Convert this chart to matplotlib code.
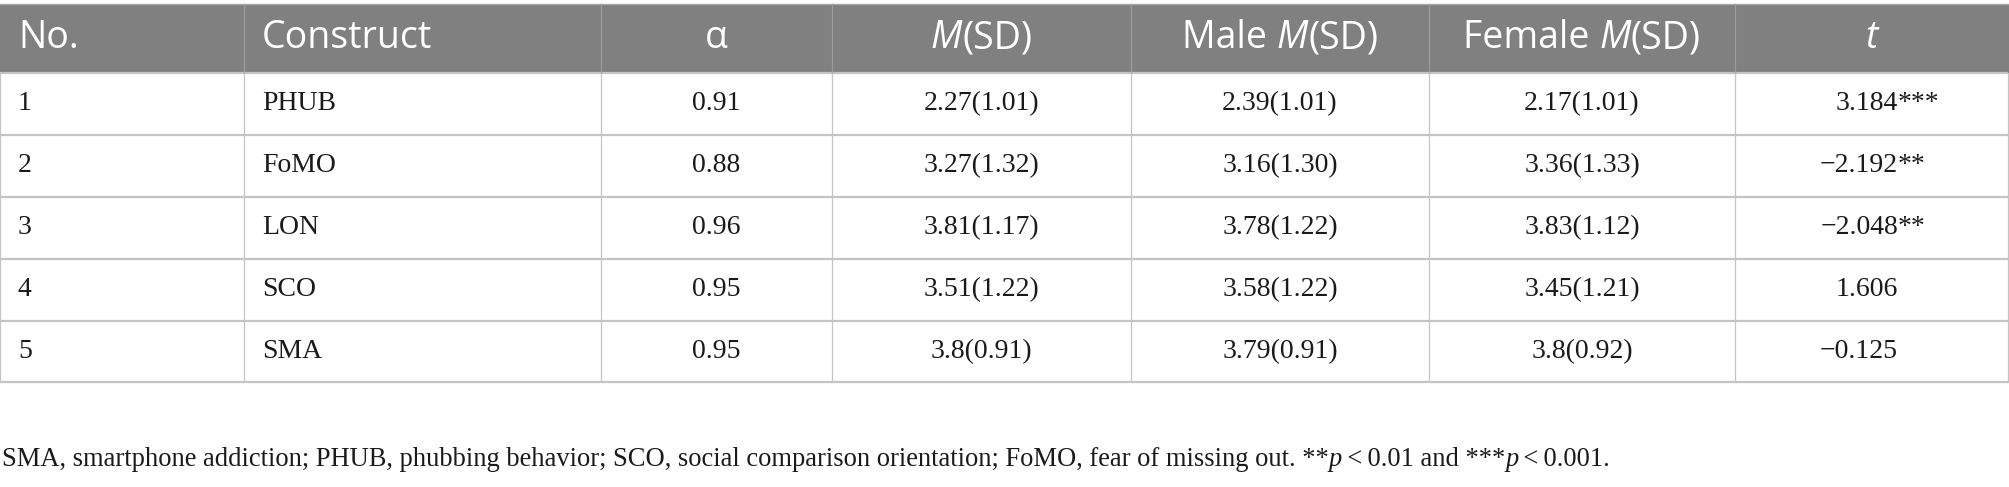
import matplotlib
matplotlib.use("Agg")
import matplotlib.pyplot as plt
from matplotlib.patches import Rectangle

# table content
header_runs = [
    [("No.", "normal")],
    [("Construct", "normal")],
    [("α", "normal")],
    [("M", "italic"), ("(SD)", "normal")],
    [("Male ", "normal"), ("M", "italic"), ("(SD)", "normal")],
    [("Female ", "normal"), ("M", "italic"), ("(SD)", "normal")],
    [("t", "italic")],
]
numbers = ["1", "2", "3", "4", "5"]
constructs = ["PHUB", "FoMO", "LON", "SCO", "SMA"]
alpha = ["0.91", "0.88", "0.96", "0.95", "0.95"]
m_sd = ["2.27(1.01)", "3.27(1.32)", "3.81(1.17)", "3.51(1.22)", "3.8(0.91)"]
male_m_sd = ["2.39(1.01)", "3.16(1.30)", "3.78(1.22)", "3.58(1.22)", "3.79(0.91)"]
female_m_sd = ["2.17(1.01)", "3.36(1.33)", "3.83(1.12)", "3.45(1.21)", "3.8(0.92)"]
t_vals = ["3.184***", "\u22122.192**", "\u22122.048**", "1.606", "\u22120.125"]

footnote_runs = [
    ("SMA, smartphone addiction; PHUB, phubbing behavior; SCO, social comparison "
     "orientation; FoMO, fear of missing out. **", "normal"),
    ("p", "italic"),
    ("\u2009<\u20090.01 and ***", "normal"),
    ("p", "italic"),
    ("\u2009<\u20090.001.", "normal"),
]

# layout in pixels
W, H = 2009, 487
col_edges = [0, 244, 601, 832, 1131, 1429, 1735, 2008]
row_edges = [4, 73, 135, 197, 259, 321, 382]
col_align = ["left", "left", "center", "center", "center", "center", "center"]
pad = 18
t_anchor = 1898   # t values line up on their last digit

HEAD_BG = "#808080"
GRID = "#c4c4c4"
TXT = "#1a1a1a"
SANS = "Open Sans"
SERIF = "Liberation Serif"

fig = plt.figure(figsize=(W / 100, H / 100), dpi=100)
ax = fig.add_axes([0, 0, 1, 1])
ax.set_xlim(0, W)
ax.set_ylim(H, 0)
ax.axis("off")
renderer = fig.canvas.get_renderer()


def draw_runs(x, y, runs, ha, size, family, color, va="center"):
    # place text runs side by side, measuring each one
    items = []
    total = 0
    for s, style in runs:
        t = ax.text(0, y, s, fontsize=size, family=family, style=style,
                    color=color, va=va, ha="left")
        w = t.get_window_extent(renderer).width
        items.append((t, w))
        total += w
    x0 = x - total / 2 if ha == "center" else x
    for t, w in items:
        t.set_x(x0)
        x0 += w


# header band
ax.add_patch(Rectangle((0, row_edges[0]), W, row_edges[1] - row_edges[0],
                       facecolor=HEAD_BG, edgecolor="none"))
ax.plot([0, W], [row_edges[0], row_edges[0]], color="#a8a8a8", lw=1.0)

# grid lines
for y in row_edges[1:]:
    ax.plot([0, col_edges[-1]], [y, y], color=GRID, lw=1.6, solid_capstyle="butt")
for i, x in enumerate(col_edges):
    if 0 < i < len(col_edges) - 1:
        ax.plot([x, x], [row_edges[0], row_edges[1]], color="#9c9c9c", lw=0.9)
    ax.plot([x, x], [row_edges[1], row_edges[-1]], color=GRID, lw=0.9)

# header text
hy = (row_edges[0] + row_edges[1]) / 2
for i, runs in enumerate(header_runs):
    if col_align[i] == "left":
        x = col_edges[i] + pad
    else:
        x = (col_edges[i] + col_edges[i + 1]) / 2
    draw_runs(x, hy, runs, col_align[i], 27, SANS, "white")

# body text
columns = [numbers, constructs, alpha, m_sd, male_m_sd, female_m_sd]
for r in range(len(numbers)):
    y = (row_edges[r + 1] + row_edges[r + 2]) / 2
    for i, col in enumerate(columns):
        if col_align[i] == "left":
            x = col_edges[i] + pad
        else:
            x = (col_edges[i] + col_edges[i + 1]) / 2
        draw_runs(x, y, [(col[r], "normal")], col_align[i], 20, SERIF, TXT)
    num = t_vals[r].rstrip("*")
    stars = t_vals[r][len(num):]
    ax.text(t_anchor, y, num, fontsize=20, family=SERIF, color=TXT,
            va="center", ha="right")
    if stars:
        ax.text(t_anchor, y, stars, fontsize=20, family=SERIF, color=TXT,
                va="center", ha="left")

# footnote
draw_runs(2, 466, footnote_runs, "left", 19.1, SERIF, TXT, va="baseline")

fig.savefig("out.png", dpi=100)
